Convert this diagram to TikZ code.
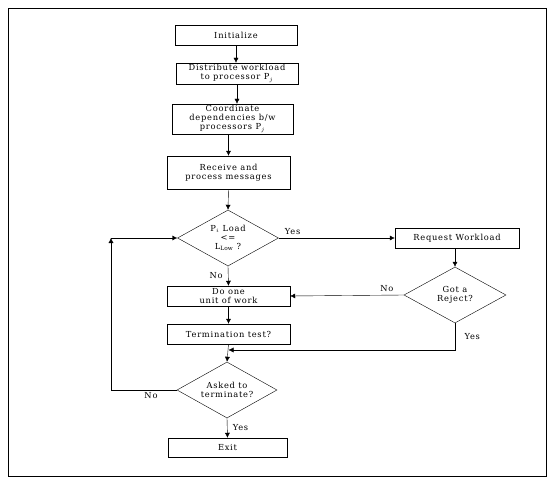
\documentclass[tikz,border=0pt]{standalone}
\usepackage{fontspec}
\setmainfont{DejaVu Serif}[LetterSpace=9]
\usetikzlibrary{shapes.geometric,arrows.meta}
\begin{document}
\begin{tikzpicture}[x=1pt,y=-1pt,
	box/.style={draw,rectangle,inner sep=0pt,align=center,font=\fontsize{8.3}{9}\selectfont},
	decide/.style={draw,diamond,inner sep=0pt,aspect=1.8,minimum width=101pt,minimum height=56pt,align=center,font=\fontsize{8.3}{9}\selectfont},
	tag/.style={font=\fontsize{8.3}{9}\selectfont},
	arr/.style={-{Latex[length=5pt,width=5pt]}}]
	\useasboundingbox (0,0) rectangle (554,484);
	\draw (8,8) rectangle (546,476);
	% main column
	\node [box,minimum width=122pt,minimum height=20pt] (init) at (236,35) {Initialize};
	\node [box,minimum width=122pt,minimum height=21pt] (dist) at (237,73.5) {Distribute workload\\ to processor P$_j$};
	\node [box,minimum width=121pt,minimum height=30pt] (coord) at (232.5,119) {Coordinate\\ dependencies b/w\\ processors P$_j$};
	\node [box,minimum width=123pt,minimum height=33pt] (recv) at (228.5,172.5) {Receive and\\ process messages};
	\node [decide] (load) at (228,238) {P$_i$ Load\\ {<}{=}\\ L$_{\mathrm{Low}}$ ?};
	\node [box,minimum width=123pt,minimum height=20pt] (work) at (228.5,296) {Do one\\ unit of work};
	\node [box,minimum width=123pt,minimum height=20pt] (term) at (228.5,334) {Termination test?};
	\node [decide,minimum width=100pt] (ask) at (227,390) {Asked to\\ terminate?};
	\node [box,minimum width=119pt,minimum height=19pt] (exit) at (227.5,447.5) {Exit};
	% right side
	\node [box,minimum width=124pt,minimum height=20pt] (req) at (457,238) {Request Workload};
	\node [decide,minimum width=102pt] (rej) at (455,295) {Got a\\ Reject?};
	\coordinate (join) at (228.5,350);
	\coordinate (back) at (111,238);
	% connectors
	\draw [arr] (init.south) -- (init.south |- dist.north);
	\draw [arr] (dist.south) -- (dist.south |- coord.north);
	\draw [arr] (recv.north |- coord.south) -- (recv.north);
	\draw [arr] (recv.south) -- (load.north);
	\draw [arr] (load.east) -- (req.west) node [tag,pos=0.12,above] {Yes};
	\draw [arr] (rej.north |- req.south) -- (rej.north);
	\draw [arr] (rej.west) -- (work.east) node [tag,pos=0.15,above] {No};
	\draw [arr] (rej.south) |- (join) node [tag,pos=0.25,right,xshift=6pt] {Yes};
	\draw [arr] (load.south) -- (work.north) node [tag,midway,left,xshift=-2pt] {No};
	\draw [arr] (work.south) -- (term.north);
	\draw [arr] (term.south) -- (ask.north);
	\draw [arr] (ask.south) -- (exit.north) node [tag,midway,right,xshift=2pt] {Yes};
	\draw [arr] (ask.west) -| (back);
	\draw [arr] (back) -- (load.west);
	\node [tag] at (151,395.5) {No};
\end{tikzpicture}
\end{document}
